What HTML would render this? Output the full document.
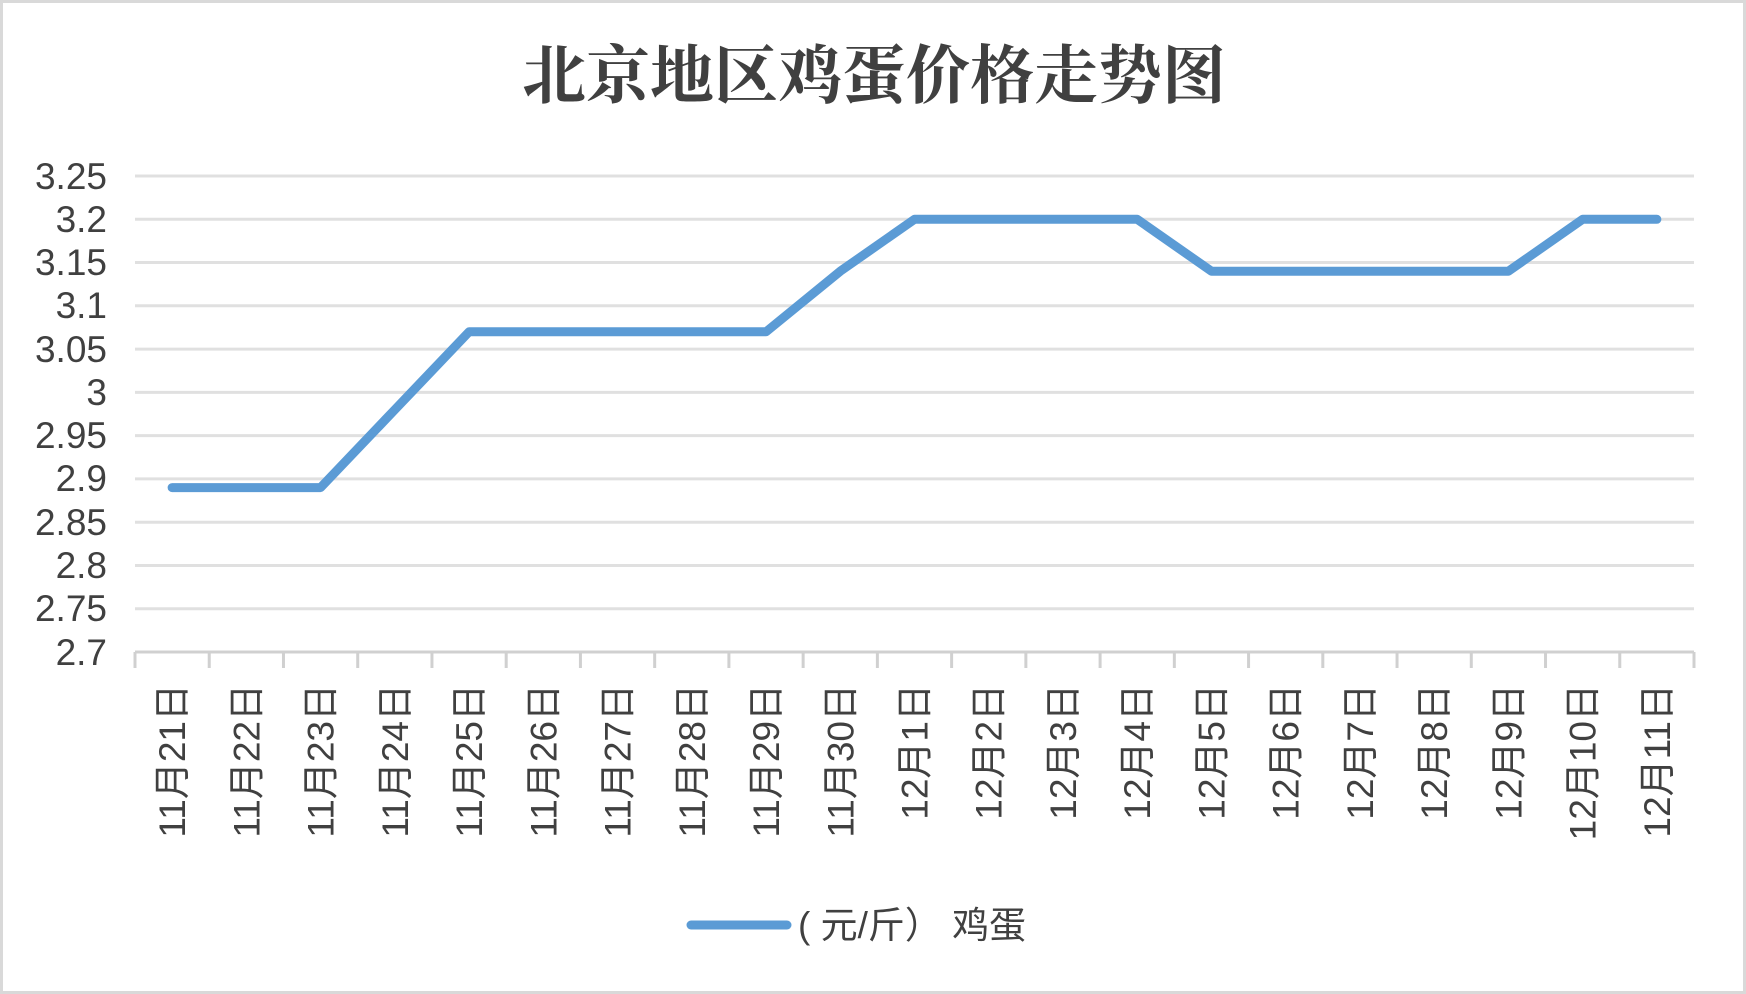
<!DOCTYPE html>
<html><head><meta charset="utf-8"><style>
html,body{margin:0;padding:0;background:#fff}
svg{display:block}
</style></head><body>
<svg width="1746" height="994" viewBox="0 0 1746 994" xmlns="http://www.w3.org/2000/svg">
<rect x="1.5" y="1.5" width="1743" height="991" fill="#fff" stroke="#d9d9d9" stroke-width="3"/>
<text x="874" y="98" text-anchor="middle" font-family="'Noto Serif CJK SC',serif" font-weight="bold" font-size="64" fill="#404040">北京地区鸡蛋价格走势图</text>
<g stroke="#e0e0e0" stroke-width="3">
<line x1="135" x2="1694" y1="176" y2="176"/>
<line x1="135" x2="1694" y1="219.3" y2="219.3"/>
<line x1="135" x2="1694" y1="262.5" y2="262.5"/>
<line x1="135" x2="1694" y1="305.8" y2="305.8"/>
<line x1="135" x2="1694" y1="349.1" y2="349.1"/>
<line x1="135" x2="1694" y1="392.4" y2="392.4"/>
<line x1="135" x2="1694" y1="435.6" y2="435.6"/>
<line x1="135" x2="1694" y1="478.9" y2="478.9"/>
<line x1="135" x2="1694" y1="522.2" y2="522.2"/>
<line x1="135" x2="1694" y1="565.5" y2="565.5"/>
<line x1="135" x2="1694" y1="608.7" y2="608.7"/>
</g>
<g stroke="#d0d0d0" stroke-width="3">
<line x1="135" x2="1694" y1="652" y2="652"/>
</g>
<g id="ticks" stroke="#d0d0d0" stroke-width="3"></g>
<g font-family="'Liberation Sans',sans-serif" font-size="37" fill="#404040" text-anchor="end">
<text x="107" y="189">3.25</text><text x="107" y="232">3.2</text><text x="107" y="275">3.15</text>
<text x="107" y="318">3.1</text><text x="107" y="362">3.05</text><text x="107" y="405">3</text>
<text x="107" y="448">2.95</text><text x="107" y="491">2.9</text><text x="107" y="535">2.85</text>
<text x="107" y="578">2.8</text><text x="107" y="621">2.75</text><text x="107" y="665">2.7</text>
</g>
<g id="xl" font-family="'Liberation Sans','Noto Sans CJK SC',sans-serif" font-size="37" fill="#404040"></g>
<polyline id="ln" fill="none" stroke="#5b9bd5" stroke-width="9" stroke-linejoin="round" stroke-linecap="round"/>
<line x1="691" x2="787" y1="925" y2="925" stroke="#5b9bd5" stroke-width="9" stroke-linecap="round"/>
<text x="798" y="938" font-family="'Liberation Sans','Noto Sans CJK SC',sans-serif" font-size="37" fill="#404040" xml:space="preserve">( 元/斤） 鸡蛋</text>
<script>
var d=[2.89,2.89,2.89,2.98,3.07,3.07,3.07,3.07,3.07,3.14,3.2,3.2,3.2,3.2,3.14,3.14,3.14,3.14,3.14,3.2,3.2];
var labs=["11月21日","11月22日","11月23日","11月24日","11月25日","11月26日","11月27日","11月28日","11月29日","11月30日","12月1日","12月2日","12月3日","12月4日","12月5日","12月6日","12月7日","12月8日","12月9日","12月10日","12月11日"];
var x0=135,w=(1694-135)/21,ns="http://www.w3.org/2000/svg",pts=[];
var tk=document.getElementById("ticks"),xl=document.getElementById("xl");
for(var i=0;i<=21;i++){var l=document.createElementNS(ns,"line");var x=x0+w*i;l.setAttribute("x1",x);l.setAttribute("x2",x);l.setAttribute("y1",652);l.setAttribute("y2",668);tk.appendChild(l);}
for(var i=0;i<21;i++){var cx=x0+w*(i+0.5);var y=652-(d[i]-2.7)/0.05*43.27;pts.push(cx+","+y);
var t=document.createElementNS(ns,"text");t.setAttribute("transform","translate("+(cx+13)+",684) rotate(-90)");t.setAttribute("text-anchor","end");t.textContent=labs[i];xl.appendChild(t);}
document.getElementById("ln").setAttribute("points",pts.join(" "));
</script>
</svg>
</body></html>
